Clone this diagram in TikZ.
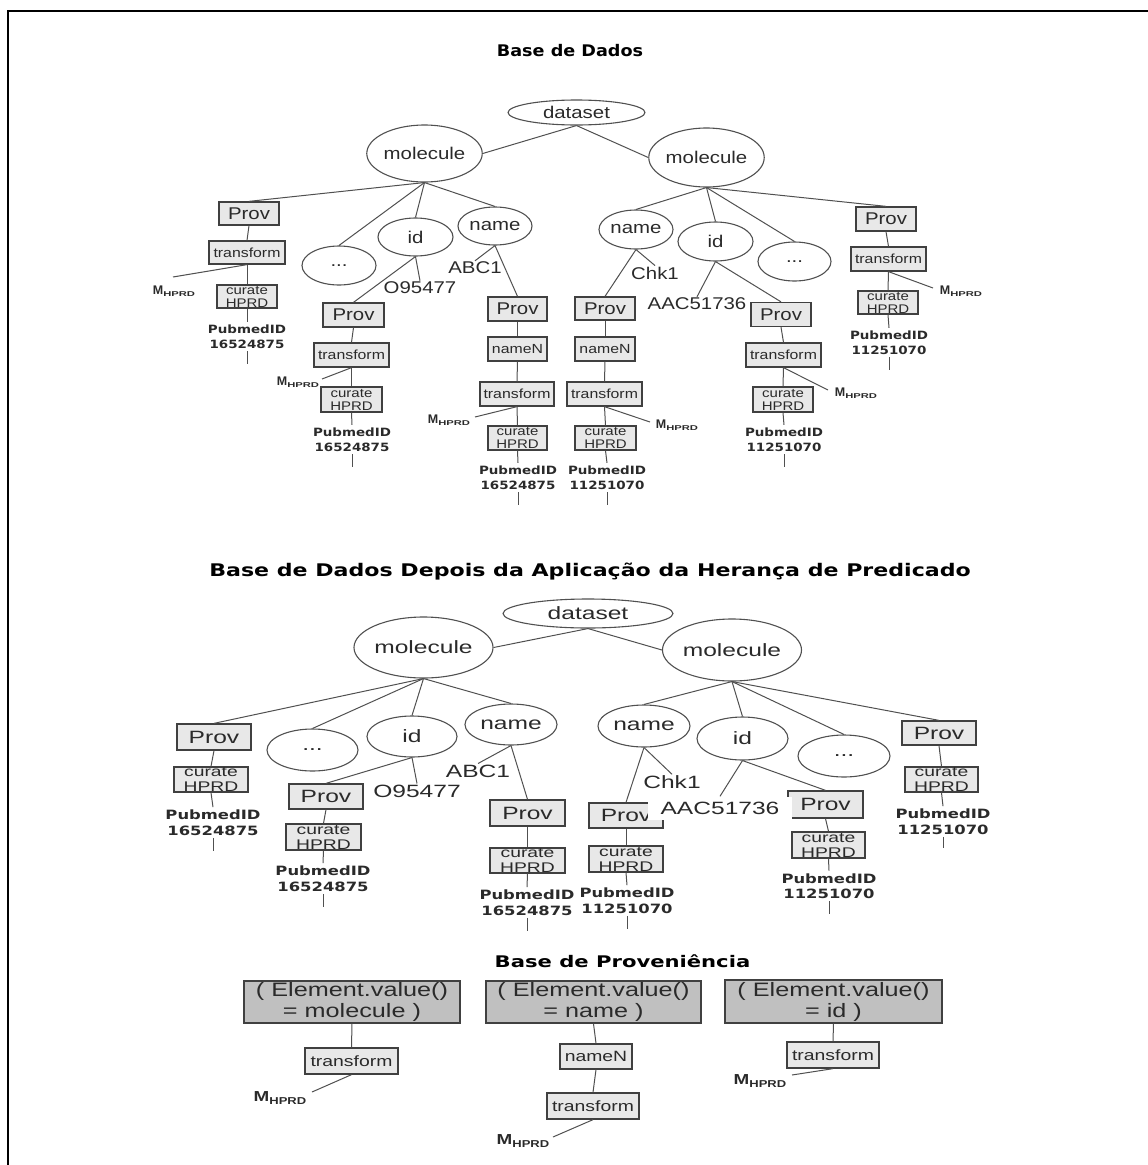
\documentclass[tikz,border=0pt]{standalone}
\usepackage{fontspec}
\usepackage{graphicx}
\setmainfont{Liberation Sans}
\newfontfamily\fa[FakeStretch=1.2]{Liberation Sans}
\newfontfamily\fb[FakeStretch=1.38]{Liberation Sans}
\newfontfamily\fc[FakeStretch=1.3]{Liberation Sans}
\newfontfamily\fd[FakeStretch=1.18]{DejaVu Sans}
\newfontfamily\fe[FakeStretch=1.28]{DejaVu Sans}
\newfontfamily\ft{DejaVu Sans}
\usetikzlibrary{shapes.geometric}
\definecolor{linec}{HTML}{505050}
\definecolor{boxline}{HTML}{404040}
\definecolor{boxfill}{HTML}{E8E8E8}
\definecolor{darkfill}{HTML}{C0C0C0}
\definecolor{txt}{HTML}{2A2A2A}
% M with the HPRD subscript, small (upper tree) and large (provenance base)
\newcommand{\mtop}{{\bfseries\fontsize{12.5}{14}\selectfont M}\raisebox{-2.5pt}{\scalebox{1.6}[1]{\bfseries\fontsize{7}{8}\selectfont HPRD}}}
\newcommand{\mbot}{{\fc\bfseries\fontsize{14.5}{16}\selectfont M}\raisebox{-3.5pt}{{\fc\bfseries\fontsize{10}{11}\selectfont HPRD}}}
\tikzset{
  conn/.style={draw=linec, line width=1pt},
  pbox/.style={rectangle, draw=boxline, fill=boxfill, line width=1.3pt, inner sep=0pt, text=txt},
  dbox/.style={pbox, fill=darkfill, align=center},
  oval/.style={ellipse, draw=linec, line width=1.1pt, inner sep=0pt, text=txt},
  lbl/.style={inner sep=1pt, text=txt},
  mlab/.style={inner sep=0pt, text=txt},
  title/.style={anchor=base, inner sep=0pt, font=\ft\bfseries, text=black},
  ta/.style={font=\fa\fontsize{17}{20}\selectfont},
  tas/.style={font=\fa\fontsize{13.2}{15}\selectfont},
  tac/.style={font=\fa\fontsize{12.5}{13}\selectfont, align=center},
  tb/.style={font=\fb\fontsize{17.8}{20}\selectfont},
  tbc/.style={font=\fb\fontsize{14}{15}\selectfont, align=center},
  tc/.style={font=\fc\fontsize{19.4}{21}\selectfont, align=center},
  tcs/.style={font=\fc\fontsize{14.9}{17}\selectfont},
  puba/.style={align=center, inner xsep=0pt, inner ysep=2.5pt, text=txt, font=\fd\bfseries\fontsize{11.4}{15}\selectfont},
  pubb/.style={align=center, inner xsep=0pt, inner ysep=2.5pt, text=txt, font=\fe\bfseries\fontsize{12.8}{15.5}\selectfont},
}
\begin{document}
\begin{tikzpicture}[x=1pt,y=-1pt]
\useasboundingbox (0,0) rectangle (1148,1165);
\draw[line width=2.2pt] (8,1170) -- (8,11) -- (1152,11);

%% ================= Base de Dados =================
\node[title] (T1) at (570,56.7) {\scalebox{1.1}[1]{\fontsize{16}{18}\selectfont Base de Dados}};
\node[oval, ta, minimum width=137, minimum height=25] (ds1) at (576.5,112.5) {dataset};
\node[oval, ta, minimum width=107, minimum height=57] (mL1) at (424.5,153.5) {molecule};
\node[oval, ta, minimum width=107, minimum height=59] (mR1) at (706.5,157.5) {molecule};
\draw[conn] (ds1.south) -- (mL1.east);
\draw[conn] (ds1.south) -- (mR1.west);

% left molecule: Prov branch
\node[pbox, ta, minimum width=60, minimum height=23] (pA1) at (249,213.5) {Prov};
\node[pbox, tas, minimum width=76, minimum height=23] (tA1) at (247,252.5) {transform};
\node[pbox, tac, minimum width=60, minimum height=23] (cA1) at (247,296.5) {curate\\HPRD};
\node[puba] (PA1) at (247,336.5) {PubmedID\\16524875};
\node[mlab] (MA1) at (174,291) {\mtop};
\coordinate (mA1e) at (173,277);
\draw[conn] (mL1.south) -- (pA1.north);
\draw[conn] (pA1.south) -- (tA1.north);
\draw[conn] (tA1.south) -- (cA1.north);
\draw[conn] (tA1.south) -- (mA1e);
\draw[conn] (cA1.south) -- (PA1.north);
\draw[conn] (PA1.south) -- ++(0,13);

% left molecule: ... and id
\node[oval, ta, minimum width=74, minimum height=39] (dL1) at (339,265.5) {...};
\node[oval, ta, minimum width=75, minimum height=38] (iL1) at (415.5,237) {id};
\node[lbl, ta] (o1) at (420,288) {O95477};
\node[pbox, ta, minimum width=61, minimum height=24] (pB1) at (353.5,315) {Prov};
\node[pbox, tas, minimum width=75, minimum height=24] (tB1) at (351.5,355) {transform};
\node[pbox, tac, minimum width=61, minimum height=25] (cB1) at (351.5,399.5) {curate\\HPRD};
\node[puba] (PB1) at (352,439.5) {PubmedID\\16524875};
\node[mlab] (MB1) at (298,382) {\mtop};
\coordinate (mB1e) at (322,379);
\draw[conn] (mL1.south) -- (dL1.north);
\draw[conn] (mL1.south) -- (iL1.north);
\draw[conn] (iL1.south) -- (o1.north);
\draw[conn] (iL1.south) -- (pB1.north);
\draw[conn] (pB1.south) -- (tB1.north);
\draw[conn] (tB1.south) -- (cB1.north);
\draw[conn] (tB1.south) -- (mB1e);
\draw[conn] (cB1.south) -- (PB1.north);
\draw[conn] (PB1.south) -- ++(0,13);

% left molecule: name
\node[oval, ta, minimum width=74, minimum height=38] (nL1) at (495,226) {name};
\node[lbl, ta] (abc1) at (475,268) {ABC1};
\node[pbox, ta, minimum width=59, minimum height=24] (pC1) at (517.5,309) {Prov};
\node[pbox, tas, minimum width=59, minimum height=24] (nC1) at (517.5,349) {nameN};
\node[pbox, tas, minimum width=74, minimum height=24] (tC1) at (517,394) {transform};
\node[pbox, tac, minimum width=59, minimum height=24] (cC1) at (517.5,438) {curate\\HPRD};
\node[puba] (PC1) at (518,477.5) {PubmedID\\16524875};
\node[mlab] (MC1) at (449,420) {\mtop};
\coordinate (mC1e) at (475,417);
\draw[conn] (mL1.south) -- (nL1.north);
\draw[conn] (nL1.south) -- (abc1.north);
\draw[conn] (nL1.south) -- (pC1.north);
\draw[conn] (pC1.south) -- (nC1.north);
\draw[conn] (nC1.south) -- (tC1.north);
\draw[conn] (tC1.south) -- (cC1.north);
\draw[conn] (tC1.south) -- (mC1e);
\draw[conn] (cC1.south) -- (PC1.north);
\draw[conn] (PC1.south) -- ++(0,13);

% right molecule: name
\node[oval, ta, minimum width=74, minimum height=39] (nR1) at (636,229.5) {name};
\node[lbl, ta] (chk1) at (655,273) {Chk1};
\node[pbox, ta, minimum width=60, minimum height=23] (pD1) at (605,308.5) {Prov};
\node[pbox, tas, minimum width=60, minimum height=24] (nD1) at (605,349) {nameN};
\node[pbox, tas, minimum width=75, minimum height=24] (tD1) at (604.5,394) {transform};
\node[pbox, tac, minimum width=61, minimum height=24] (cD1) at (605.5,438) {curate\\HPRD};
\node[puba] (PD1) at (607,477.5) {PubmedID\\11251070};
\node[mlab] (MD1) at (677,425) {\mtop};
\coordinate (mD1e) at (650,422);
\draw[conn] (mR1.south) -- (nR1.north);
\draw[conn] (nR1.south) -- (chk1.north);
\draw[conn] (nR1.south) -- (pD1.north);
\draw[conn] (pD1.south) -- (nD1.north);
\draw[conn] (nD1.south) -- (tD1.north);
\draw[conn] (tD1.south) -- (cD1.north);
\draw[conn] (tD1.south) -- (mD1e);
\draw[conn] (cD1.south) -- (PD1.north);
\draw[conn] (PD1.south) -- ++(0,13);

% right molecule: id
\node[oval, ta, minimum width=75, minimum height=39] (iR1) at (715.5,241.5) {id};
\node[lbl, ta] (aac1) at (697,304) {AAC51736};
\node[pbox, ta, minimum width=60, minimum height=24] (pE1) at (781,314.5) {Prov};
\node[pbox, tas, minimum width=75, minimum height=24] (tE1) at (783.5,355) {transform};
\node[pbox, tac, minimum width=60, minimum height=25] (cE1) at (783,399.5) {curate\\HPRD};
\node[puba] (PE1) at (784,439.5) {PubmedID\\11251070};
\node[mlab] (ME1) at (856,393) {\mtop};
\coordinate (mE1e) at (828,390);
\draw[conn] (mR1.south) -- (iR1.north);
\draw[conn] (iR1.south) -- (aac1.north);
\draw[conn] (iR1.south) -- (pE1.north);
\draw[conn] (pE1.south) -- (tE1.north);
\draw[conn] (tE1.south) -- (cE1.north);
\draw[conn] (tE1.south) -- (mE1e);
\draw[conn] (cE1.south) -- (PE1.north);
\draw[conn] (PE1.south) -- ++(0,13);

% right molecule: ... and Prov
\node[oval, ta, minimum width=73, minimum height=39] (dR1) at (794.5,261.5) {...};
\node[pbox, ta, minimum width=60, minimum height=24] (pF1) at (886,219) {Prov};
\node[pbox, tas, minimum width=75, minimum height=24] (tF1) at (888.5,259) {transform};
\node[pbox, tac, minimum width=60, minimum height=23] (cF1) at (888,302.5) {curate\\HPRD};
\node[puba] (PF1) at (889,342.5) {PubmedID\\11251070};
\node[mlab] (MF1) at (961,291) {\mtop};
\coordinate (mF1e) at (933,288);
\draw[conn] (mR1.south) -- (dR1.north);
\draw[conn] (mR1.south) -- (pF1.north);
\draw[conn] (pF1.south) -- (tF1.north);
\draw[conn] (tF1.south) -- (cF1.north);
\draw[conn] (tF1.south) -- (mF1e);
\draw[conn] (cF1.south) -- (PF1.north);
\draw[conn] (PF1.south) -- ++(0,13);

%% ========== Base de Dados Depois da Aplicação ... ==========
\node[title] (T2) at (590,576) {\scalebox{1.27}[1]{\fontsize{17.4}{20}\selectfont Base de Dados Depois da Aplicação da Herança de Predicado}};
\node[oval, tb, minimum width=170, minimum height=29] (ds2) at (588,613.5) {dataset};
\node[oval, tb, minimum width=133, minimum height=61] (mL2) at (423.5,647.5) {molecule};
\node[oval, tb, minimum width=132, minimum height=62] (mR2) at (732,650) {molecule};
\draw[conn] (ds2.south) -- (mL2.east);
\draw[conn] (ds2.south) -- (mR2.west);

% left molecule
\node[pbox, tb, minimum width=74, minimum height=26] (pA2) at (214,737) {Prov};
\node[pbox, tbc, minimum width=74, minimum height=25] (cA2) at (211,779.5) {curate\\HPRD};
\node[pubb] (PA2) at (213,822.5) {PubmedID\\16524875};
\draw[conn] (mL2.south) -- (pA2.north);
\draw[conn] (pA2.south) -- (cA2.north);
\draw[conn] (cA2.south) -- (PA2.north);
\draw[conn] (PA2.south) -- ++(0,13);

\node[oval, tb, minimum width=91, minimum height=42] (dL2) at (312.5,750) {...};
\node[oval, tb, minimum width=90, minimum height=41] (iL2) at (412,736.5) {id};
\node[lbl, tb] (o2) at (417,791) {O95477};
\node[pbox, tb, minimum width=74, minimum height=25] (pB2) at (326,796.5) {Prov};
\node[pbox, tbc, minimum width=75, minimum height=26] (cB2) at (323.5,837) {curate\\HPRD};
\node[pubb] (PB2) at (323,878.5) {PubmedID\\16524875};
\draw[conn] (mL2.south) -- (dL2.north);
\draw[conn] (mL2.south) -- (iL2.north);
\draw[conn] (iL2.south) -- (o2.north);
\draw[conn] (iL2.south) -- (pB2.north);
\draw[conn] (pB2.south) -- (cB2.north);
\draw[conn] (cB2.south) -- (PB2.north);
\draw[conn] (PB2.south) -- ++(0,13);

\node[oval, tb, minimum width=92, minimum height=41] (nL2) at (511,724.5) {name};
\node[lbl, tb] (abc2) at (478,771) {ABC1};
\node[pbox, tb, minimum width=75, minimum height=26] (pC2) at (527.5,813) {Prov};
\node[pbox, tbc, minimum width=75, minimum height=25] (cC2) at (527.5,860.5) {curate\\HPRD};
\node[pubb] (PC2) at (527,902.5) {PubmedID\\16524875};
\draw[conn] (mL2.south) -- (nL2.north);
\draw[conn] (nL2.south) -- (abc2.north);
\draw[conn] (nL2.south) -- (pC2.north);
\draw[conn] (pC2.south) -- (cC2.north);
\draw[conn] (cC2.south) -- (PC2.north);
\draw[conn] (PC2.south) -- ++(0,13);

% right molecule
\node[oval, tb, minimum width=92, minimum height=42] (nR2) at (644,726) {name};
\node[lbl, tb] (chk2) at (672,782) {Chk1};
\node[pbox, tb, minimum width=74, minimum height=25] (pD2) at (626,815.5) {Prov};
\node[pbox, tbc, minimum width=74, minimum height=26] (cD2) at (626,859) {curate\\HPRD};
\node[pubb] (PD2) at (627,900.5) {PubmedID\\11251070};
\draw[conn] (mR2.south) -- (nR2.north);
\draw[conn] (nR2.south) -- (chk2.north);
\draw[conn] (nR2.south) -- (pD2.north);
\draw[conn] (pD2.south) -- (cD2.north);
\draw[conn] (cD2.south) -- (PD2.north);
\draw[conn] (PD2.south) -- ++(0,13);

\node[oval, tb, minimum width=91, minimum height=43] (iR2) at (742.5,738.5) {id};
\node[pbox, tb, minimum width=75, minimum height=27] (pE2) at (825.5,804.5) {Prov};
\node[pbox, tbc, minimum width=73, minimum height=26] (cE2) at (828.5,845) {curate\\HPRD};
\node[pubb] (PE2) at (829,886) {PubmedID\\11251070};
\draw[conn] (mR2.south) -- (iR2.north);
\draw[conn] (iR2.south) -- (pE2.north);
\draw[conn] (pE2.south) -- (cE2.north);
\draw[conn] (cE2.south) -- (PE2.north);
\draw[conn] (PE2.south) -- ++(0,13);
% the value label sits on a white patch over the neighbouring Prov box
\node[lbl, tb, fill=white, inner xsep=13pt, minimum height=23] (aac2) at (720,808) {AAC51736};
\draw[conn] (iR2.south) -- (aac2.north);

\node[oval, tb, minimum width=92, minimum height=42] (dR2) at (844,756) {...};
\node[pbox, tb, minimum width=74, minimum height=24] (pF2) at (939,733) {Prov};
\node[pbox, tbc, minimum width=73, minimum height=25] (cF2) at (941.5,779.5) {curate\\HPRD};
\node[pubb] (PF2) at (943,821.5) {PubmedID\\11251070};
\draw[conn] (mR2.south) -- (dR2.north);
\draw[conn] (mR2.south) -- (pF2.north);
\draw[conn] (pF2.south) -- (cF2.north);
\draw[conn] (cF2.south) -- (PF2.north);
\draw[conn] (PF2.south) -- ++(0,11);

%% ================= Base de Proveniência =================
\node[title] (T3) at (622.5,967) {\scalebox{1.32}[1]{\fontsize{16}{18}\selectfont Base de Proveniência}};

\node[dbox, tc, minimum width=216, minimum height=42] (B1) at (352,1002) {( Element.value()\\= molecule )};
\node[pbox, tcs, minimum width=93, minimum height=26] (tX1) at (351.5,1061) {transform};
\node[mlab] (MX1) at (280,1098) {\mbot};
\coordinate (mX1e) at (312,1092);
\draw[conn] (B1.south) -- (tX1.north);
\draw[conn] (tX1.south) -- (mX1e);

\node[dbox, tc, minimum width=215, minimum height=42] (B2) at (593.5,1002) {( Element.value()\\= name )};
\node[pbox, tcs, minimum width=72, minimum height=25] (nX2) at (596,1056.5) {nameN};
\node[pbox, tcs, minimum width=92, minimum height=26] (tX2) at (593,1106) {transform};
\node[mlab] (MX2) at (523,1141) {\mbot};
\coordinate (mX2e) at (553,1137);
\draw[conn] (B2.south) -- (nX2.north);
\draw[conn] (nX2.south) -- (tX2.north);
\draw[conn] (tX2.south) -- (mX2e);

\node[dbox, tc, minimum width=217, minimum height=43] (B3) at (833.5,1001.5) {( Element.value()\\= id )};
\node[pbox, tcs, minimum width=92, minimum height=26] (tX3) at (833,1055) {transform};
\node[mlab] (MX3) at (760,1081) {\mbot};
\coordinate (mX3e) at (792,1075);
\draw[conn] (B3.south) -- (tX3.north);
\draw[conn] (tX3.south) -- (mX3e);
\end{tikzpicture}
\end{document}
